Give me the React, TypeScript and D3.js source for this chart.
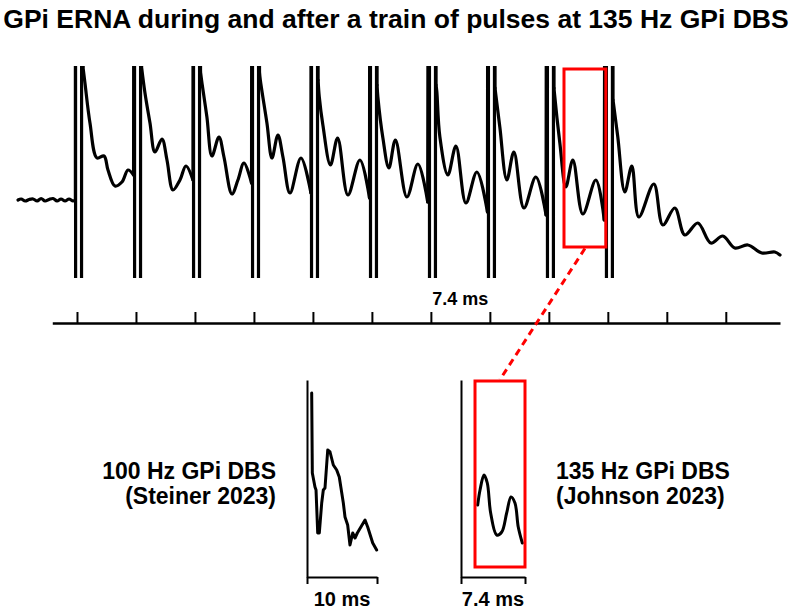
import React, { useEffect, useRef } from 'react';
import * as d3 from 'd3';

const TITLE = 'GPi ERNA during and after a train of pulses at 135 Hz GPi DBS';
const FONT = "'Liberation Sans', Arial, sans-serif";

// onsets of the 135 Hz pulses (ms) and the time-axis ticks
const PULSE_MS = [0, 7.4, 14.8, 22.2, 29.6, 37, 44.4, 51.8, 59.2, 66.6];
const TICK_MS = [0, 7.4, 14.8, 22.2, 29.6, 37, 44.4, 51.8, 59.2, 66.6, 74, 81.4];

// pre-stimulus baseline, [ms, uV]
const BASELINE = [
  [-7.4, 0], [-7.0, 1], [-6.5, -1], [-6.0, 0.5], [-5.5, 1], [-5.0, -1], [-4.5, 1.5],
  [-4.0, -1], [-3.5, 0.5], [-3.0, 1.5], [-2.5, -1], [-2.0, 1], [-1.5, -1],
  [-1.0, 1], [-0.5, -1], [-0.2, 0],
];

// ERNA after each pulse, [ms after onset, uV]
const RESPONSES = [
  [[0.75, 133], [1.0, 117], [1.63, 77], [2.51, 42], [3.39, 44], [3.89, 30], [4.77, 14], [5.64, 18], [6.4, 30], [7.1, 25]],
  [[0.7, 133], [1.13, 107], [1.76, 77], [2.38, 48], [3.26, 61], [3.89, 40], [4.64, 10], [5.52, 20], [6.27, 34], [7.15, 20]],
  [[0.7, 128], [0.88, 117], [1.5, 83], [2.13, 44], [3.01, 63], [3.64, 43], [4.64, 6], [5.39, 20], [6.15, 37], [7.1, 17]],
  [[0.7, 128], [0.8, 120], [1.63, 77], [2.26, 42], [3.01, 65], [3.64, 43], [4.52, 7], [5.9, 42], [7.15, 7]],
  [[0.65, 120], [0.8, 103], [1.25, 75], [2.2, 35], [3.1, 62], [4.39, 5], [5.9, 40], [7.1, 2]],
  [[0.65, 115], [0.75, 103], [1.38, 62], [2.13, 32], [2.95, 60], [4.39, 3], [5.77, 36], [7.0, -2]],
  [[0.65, 115], [0.75, 108], [1.13, 63], [2.13, 25], [3.14, 54], [4.39, -3], [5.77, 28], [7.1, -12]],
  [[0.65, 112], [0.75, 105], [1.25, 73], [2.13, 20], [3.01, 48], [4.27, -8], [5.77, 23], [7.05, -15]],
  [[0.65, 112], [0.7, 107], [1.38, 57], [2.13, 13], [3.01, 40], [4.26, -14], [5.9, 20], [6.95, -20]],
  [[0.65, 100], [0.7, 97], [1.25, 63], [2.13, 8], [3.01, 34], [3.89, -17], [5.77, 16], [6.9, -25],
    [8.4, -8], [9.66, -35], [11.29, -23], [12.92, -43], [14.42, -36], [15.93, -48], [17.56, -45],
    [19.32, -53], [20.95, -52], [21.6, -55]],
];
const ARTIFACT_UV = 1000;

// highlighted window on the train
const ZOOM_MS = [61.1, 66.35];
const ZOOM_UV = [-47, 131];

// single responses shown below, [ms, uV]
const STEINER_100HZ = [
  [0.67, 184], [0.76, 104], [1.14, 90], [1.29, 87], [1.53, 44], [1.76, 44], [2.1, 74], [2.33, 87],
  [2.57, 89], [2.96, 127], [3.29, 125], [3.76, 112], [4.24, 107], [4.61, 100], [5.19, 74],
  [5.43, 60], [5.81, 52], [6.14, 32], [6.53, 44], [6.86, 39], [7.19, 44], [8.29, 57], [8.67, 50],
  [9.39, 34], [9.95, 27],
];
const JOHNSON_135HZ = [
  [1.93, 72], [2.2, 87], [2.66, 102], [3.04, 94], [3.43, 64], [4.13, 42], [4.71, 45], [5.28, 64],
  [5.78, 80], [6.24, 74], [6.62, 50], [7.09, 34],
];
const JOHNSON_BOX_MS = [1.62, 7.4];
const JOHNSON_BOX_UV = [10, 196];

function App() {
  const ref = useRef<SVGSVGElement>(null);

  useEffect(() => {
    const svg = d3.select(ref.current);
    svg.selectAll('*').remove();

    svg.append('text')
      .attr('x', 396).attr('y', 28)
      .attr('text-anchor', 'middle')
      .style('font-family', FONT).style('font-weight', 'bold').style('font-size', '26.5px')
      .text(TITLE);

    // ---- train of pulses ----
    const x = d3.scaleLinear().domain([-7.4, 88.2]).range([18, 780]);
    const y = d3.scaleLinear().domain([-78, 134]).range([278, 66]);

    svg.append('clipPath').attr('id', 'trace-clip')
      .append('rect')
      .attr('x', 0).attr('y', y.range()[1])
      .attr('width', 792).attr('height', y.range()[0] - y.range()[1]);

    const trace = svg.append('g').attr('clip-path', 'url(#trace-clip)');
    const line = d3.line<number[]>().x((d) => x(d[0])).y((d) => y(d[1]));
    const drawPath = (pts: number[][], curve: d3.CurveFactory) => {
      trace.append('path')
        .attr('d', line.curve(curve)(pts))
        .attr('fill', 'none')
        .attr('stroke', '#000')
        .attr('stroke-width', 3.2)
        .attr('stroke-linejoin', 'round')
        .attr('stroke-linecap', 'round');
    };

    drawPath(BASELINE, d3.curveCatmullRom);
    let prev = BASELINE[BASELINE.length - 1];
    PULSE_MS.forEach((onset, i) => {
      const resp = RESPONSES[i].map((d) => [onset + d[0], d[1]]);
      // biphasic stimulus artifact, saturated beyond the visible range
      drawPath([
        prev,
        [onset - 0.2, ARTIFACT_UV],
        [onset - 0.15, -ARTIFACT_UV],
        [onset + 0.55, -ARTIFACT_UV],
        [onset + 0.6, ARTIFACT_UV],
        resp[0],
      ], d3.curveLinear);
      drawPath(resp, d3.curveCatmullRom.alpha(0.5));
      prev = resp[resp.length - 1];
    });

    // time axis
    const axisX = x.copy().domain([-3.1, 88.2]).range([x(-3.1), x(88.2)]);
    const ax = svg.append('g')
      .attr('transform', 'translate(0,323)')
      .call(d3.axisTop(axisX).tickValues(TICK_MS).tickSize(11).tickSizeOuter(0).tickFormat(() => ''));
    ax.select('.domain').attr('stroke-width', 2.5);
    ax.selectAll('.tick line').attr('stroke-width', 2);

    svg.append('text')
      .attr('x', x((TICK_MS[6] + TICK_MS[7]) / 2)).attr('y', 305)
      .attr('text-anchor', 'middle')
      .style('font-family', FONT).style('font-weight', 'bold').style('font-size', '18px')
      .text('7.4 ms');

    // ---- small panels ----
    const yp = d3.scaleLinear().domain([0, 197]).range([577, 380]);
    const panel = (x0: number, x1: number, maxMs: number, data: number[][], curve: d3.CurveFactory, label: string) => {
      const xp = d3.scaleLinear().domain([0, maxMs]).range([x0, x1]);
      const g = svg.append('g');
      const bx = g.append('g').attr('transform', `translate(0,${yp(0)})`)
        .call(d3.axisBottom(xp).tickValues([0, maxMs]).tickSize(7).tickSizeOuter(0).tickFormat(() => ''));
      bx.selectAll('.domain, .tick line').attr('stroke-width', 2);
      const by = g.append('g').attr('transform', `translate(${x0},0)`)
        .call(d3.axisLeft(yp).tickValues([]).tickSizeOuter(0));
      by.select('.domain').attr('stroke-width', 2);
      g.append('path')
        .attr('d', d3.line<number[]>().x((d) => xp(d[0])).y((d) => yp(d[1])).curve(curve)(data))
        .attr('fill', 'none').attr('stroke', '#000').attr('stroke-width', 3)
        .attr('stroke-linejoin', 'round').attr('stroke-linecap', 'round');
      g.append('text')
        .attr('x', xp(maxMs / 2)).attr('y', 606)
        .attr('text-anchor', 'middle')
        .style('font-family', FONT).style('font-weight', 'bold').style('font-size', '20px')
        .text(label);
      return xp;
    };

    panel(307, 377, 10, STEINER_100HZ, d3.curveLinear, '10 ms');
    const xj = panel(461, 525, 7.4, JOHNSON_135HZ, d3.curveCatmullRom.alpha(0.5), '7.4 ms');

    // red boxes and connector
    const topBox = { x0: x(ZOOM_MS[0]), x1: x(ZOOM_MS[1]), y0: y(ZOOM_UV[1]), y1: y(ZOOM_UV[0]) };
    const botBox = { x0: xj(JOHNSON_BOX_MS[0]), x1: xj(JOHNSON_BOX_MS[1]), y0: yp(JOHNSON_BOX_UV[1]), y1: yp(JOHNSON_BOX_UV[0]) };
    [topBox, botBox].forEach((b) => {
      svg.append('rect')
        .attr('x', b.x0).attr('y', b.y0)
        .attr('width', b.x1 - b.x0).attr('height', b.y1 - b.y0)
        .attr('fill', 'none').attr('stroke', '#ff0000').attr('stroke-width', 3);
    });
    svg.append('line')
      .attr('x1', (topBox.x0 + topBox.x1) / 2).attr('y1', topBox.y1 + 1.5)
      .attr('x2', (botBox.x0 + botBox.x1) / 2).attr('y2', botBox.y0 - 1.5)
      .attr('stroke', '#ff0000').attr('stroke-width', 3).attr('stroke-dasharray', '7,5');

    // study labels
    const label = (tx: number, anchor: string, lines: string[]) => {
      lines.forEach((s, i) => {
        svg.append('text')
          .attr('x', tx).attr('y', 479 + i * 25)
          .attr('text-anchor', anchor)
          .style('font-family', FONT).style('font-weight', 'bold').style('font-size', '23px')
          .text(s);
      });
    };
    label(276, 'end', ['100 Hz GPi DBS', '(Steiner 2023)']);
    label(556, 'start', ['135 Hz GPi DBS', '(Johnson 2023)']);
  }, []);

  return (
    <svg ref={ref} width={792} height={610}
      style={{ position: 'absolute', left: 0, top: 0, background: '#fff' }} />
  );
}

export default App;
